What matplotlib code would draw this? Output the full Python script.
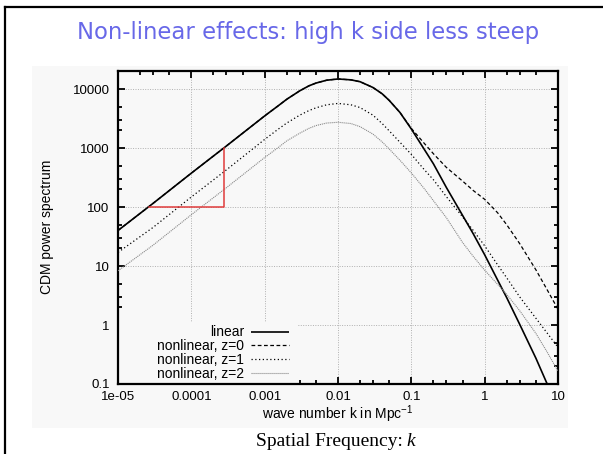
import matplotlib
matplotlib.use("Agg")
import matplotlib.pyplot as plt
from matplotlib.ticker import LogLocator, NullFormatter, FixedLocator, FixedFormatter
from matplotlib.patches import Rectangle

plt.rcParams['font.family'] = ['Liberation Sans', 'DejaVu Sans']
plt.rcParams['mathtext.fontset'] = 'custom'
plt.rcParams['mathtext.rm'] = 'Liberation Sans'
plt.rcParams['mathtext.it'] = 'Liberation Sans:italic'

# ---- data ----
k_vals = [1e-5, 3e-5, 1e-4, 3e-4, 1e-3, 1.5e-3, 2e-3, 3e-3, 4e-3, 5e-3, 7e-3, 0.01, 0.015, 0.02,
          0.03, 0.04, 0.05, 0.07, 0.1, 0.15, 0.2, 0.3, 0.5, 0.7, 1.0, 1.5, 2.0, 3.0, 5.0, 7.0, 10.0]

p_linear = [40, 115, 375, 1080, 3500, 5100, 6700, 9300, 11300, 12600, 14100, 14800, 14300, 13300,
            10600, 8300, 6400, 4000, 2100, 950, 540, 215, 72, 35, 15.5, 5.8, 2.9, 1.03, 0.273, 0.105, 0.045]

p_z0 = [40, 115, 375, 1080, 3500, 5100, 6700, 9300, 11300, 12600, 14100, 14800, 14300, 13300,
        10600, 8300, 6400, 4000, 2150, 1200, 800, 470, 275, 190, 135, 80, 50, 24, 8.6, 4.1, 1.85]

p_z1 = [17, 45, 148, 425, 1400, 2050, 2650, 3600, 4300, 4800, 5400, 5700, 5400, 4850,
        3600, 2600, 1950, 1250, 780, 430, 290, 150, 68, 40, 22, 10.5, 6.3, 3.0, 1.3, 0.75, 0.42]

p_z2 = [8.3, 22.5, 74, 212, 690, 1000, 1320, 1780, 2150, 2400, 2650, 2730, 2600, 2300,
        1720, 1270, 960, 620, 378, 205, 128, 66, 25, 14.5, 8.5, 4.9, 3.3, 1.75, 0.72, 0.36, 0.165]

tri_k = [2.65e-5, 2.75e-4, 2.75e-4]
tri_p = [100, 100, 1000]

labels = ["linear", "nonlinear, z=0", "nonlinear, z=1", "nonlinear, z=2"]
x_ticks = [1e-5, 1e-4, 1e-3, 1e-2, 1e-1, 1, 10]
x_ticklabels = ["1e-05", "0.0001", "0.001", "0.01", "0.1", "1", "10"]
y_ticks = [0.1, 1, 10, 100, 1000, 10000]
y_ticklabels = ["0.1", "1", "10", "100", "1000", "10000"]

W, H = 603, 454
BG = '#f8f8f8'
fig = plt.figure(figsize=(W / 100, H / 100), dpi=100)
fig.patch.set_facecolor('white')

# light gray panel
panel = Rectangle((32 / W, 1 - 428 / H), (568 - 32) / W, (428 - 66) / H,
                  transform=fig.transFigure, facecolor=BG, edgecolor='none', zorder=-5)
fig.patches.append(panel)
# outer black frame (left and top)
fig.add_artist(plt.Line2D([4.5 / W, 4.5 / W], [0, 1 - 7 / H], transform=fig.transFigure,
                          color='black', lw=1.6, zorder=-4))
fig.add_artist(plt.Line2D([4.5 / W, 1], [1 - 7 / H, 1 - 7 / H], transform=fig.transFigure,
                          color='black', lw=1.6, zorder=-4))

ax = fig.add_axes([118 / W, 1 - 384 / H, (558 - 118) / W, (384 - 71) / H])
ax.set_zorder(1)
ax.set_facecolor(BG)
ax.set_xscale('log')
ax.set_yscale('log')
ax.set_xlim(1e-5, 10)
ax.set_ylim(0.1, 20200)

ax.grid(True, which='major', color='#b0b0b0', linestyle=(0, (1, 1.5)), linewidth=0.7)
ax.set_axisbelow(True)

# legend background (hides the grid under the key)
ax.add_patch(Rectangle((0, 0), (297 - 118) / 440, (384 - 322) / 313, transform=ax.transAxes,
                       facecolor=BG, edgecolor='none', zorder=1.5))

l0, = ax.plot(k_vals, p_linear, color='black', lw=1.2, solid_capstyle='butt', zorder=3)
l1, = ax.plot(k_vals, p_z0, color='black', lw=0.9, linestyle=(0, (3, 2)), zorder=3)
l2, = ax.plot(k_vals, p_z1, color='black', lw=0.9, linestyle=(0, (1, 2)), zorder=3)
l3, = ax.plot(k_vals, p_z2, color='#8a8a8a', lw=0.8, linestyle=(0, (1, 0.8)), zorder=3)
ax.plot(tri_k, tri_p, color='#e03c3c', lw=1.1, zorder=3)

leg = ax.legend([l0, l1, l2, l3], labels, loc='lower right', bbox_to_anchor=((292 - 118) / 440, 0.0),
                markerfirst=False, frameon=False, fontsize=10, handlelength=2.7,
                handletextpad=0.5, labelspacing=-0.02, borderpad=0.25, borderaxespad=0.0)

for s in ax.spines.values():
    s.set_linewidth(1.6)

ax.xaxis.set_major_locator(FixedLocator(x_ticks))
ax.xaxis.set_major_formatter(FixedFormatter(x_ticklabels))
ax.yaxis.set_major_locator(FixedLocator(y_ticks))
ax.yaxis.set_major_formatter(FixedFormatter(y_ticklabels))
ax.xaxis.set_minor_locator(LogLocator(base=10, subs=(2, 3, 5), numticks=20))
ax.yaxis.set_minor_locator(LogLocator(base=10, subs=(2, 3, 5), numticks=20))
ax.xaxis.set_minor_formatter(NullFormatter())
ax.yaxis.set_minor_formatter(NullFormatter())
ax.tick_params(which='both', direction='in', top=True, right=True, width=1.3, colors='black')
ax.tick_params(which='major', length=5)
ax.tick_params(which='minor', length=3)
ax.tick_params(axis='x', which='major', labelsize=9.5, pad=5)
ax.tick_params(axis='y', which='major', labelsize=9.5, pad=6)

fig.text(338 / W, 1 - 414 / H, "wave number k in Mpc$^{-1}$", ha='center', va='center', fontsize=10)
fig.text(47 / W, 1 - 227 / H, "CDM power spectrum", ha='center', va='center', rotation=90, fontsize=10)

fig.text(308 / W, 1 - 33 / H, "Non-linear effects: high k side less steep", ha='center', va='center',
         fontsize=16.4, color='#6868e8', family='DejaVu Sans')

fig.text(403 / W, 1 - 441 / H, "Spatial Frequency:", ha='right', va='center', fontsize=14,
         family='Liberation Serif')
fig.text(406 / W, 1 - 441 / H, "k", ha='left', va='center', fontsize=14,
         family='Liberation Serif', style='italic')

fig.savefig("out.png", dpi=100)
